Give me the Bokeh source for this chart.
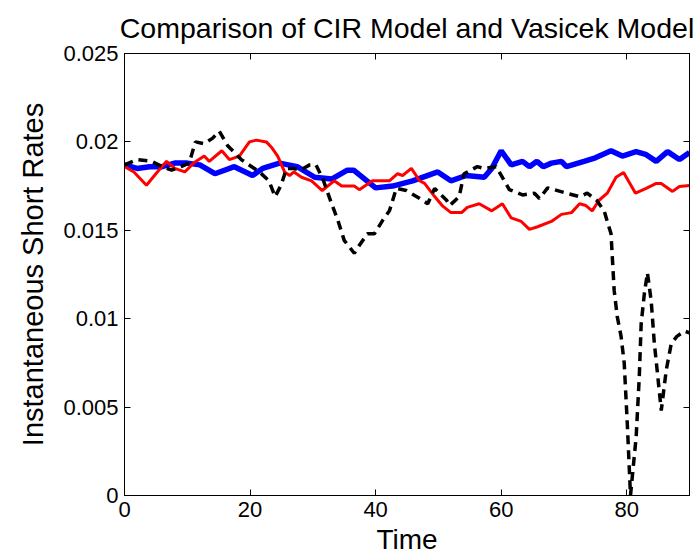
from bokeh.plotting import figure
from bokeh.models import Range1d, FixedTicker, LinearAxis, CustomJSTickFormatter
from bokeh.embed import file_html
from bokeh.resources import INLINE

# CIR model (blue)
cir_t = [0, 2, 4, 6, 8, 10, 12, 14.4, 17.5, 20.4, 22, 24.7, 27.5, 30.3, 33, 35.5, 36.5,
         40, 42.7, 45.9, 49.9, 52, 54.4, 57.3, 58.5, 60, 61.6, 63.4, 64.5, 65.7, 66.7, 68,
         69.6, 70.4, 73.2, 75, 77.5, 79.3, 81.5, 83, 84.7, 86.5, 88.4, 90]
cir_v = [0.0187, 0.0185, 0.0186, 0.0186, 0.0188, 0.0188, 0.0187, 0.0182, 0.0186, 0.0181,
         0.0185, 0.0188, 0.0186, 0.0180, 0.0179, 0.0184, 0.0184, 0.0174, 0.0175, 0.0178,
         0.0183, 0.0178, 0.0181, 0.0180, 0.0185, 0.0195, 0.0187, 0.0189, 0.0186, 0.0189,
         0.0186, 0.0188, 0.0189, 0.0186, 0.0189, 0.0191, 0.0195, 0.0192, 0.01945, 0.0193,
         0.0189, 0.01945, 0.0190, 0.0194]

# Vasicek model (red)
vas_t = [0, 1.5, 3.5, 5, 6.7, 8, 9.6, 11, 12.7, 13.5, 15.5, 16.7, 18.3, 18.8, 19.9, 21,
         22.6, 23.4, 24.4, 25.5, 26.3, 27, 28.2, 29.8, 31.5, 33.4, 34.6, 36.6, 37.4, 39.5,
         42.2, 43.5, 44.3, 45.7, 47, 47.8, 49.2, 50.6, 52, 53.7, 54.6, 56.5, 58.5, 60.2,
         61.6, 63.2, 64.5, 65.8, 68, 69.6, 71.2, 72.5, 73.5, 74.5, 75.6, 76.9, 78.3, 79.5,
         81.4, 83.1, 84.7, 85.5, 87.3, 88.4, 90]
vas_v = [0.0186, 0.0183, 0.01755, 0.0182, 0.0189, 0.0185, 0.0183, 0.0188, 0.0192, 0.0189,
         0.0195, 0.0190, 0.0192, 0.01945, 0.0200, 0.0201, 0.0200, 0.0197, 0.0192, 0.0183,
         0.0181, 0.0183, 0.0180, 0.0178, 0.01725, 0.0178, 0.0175, 0.0175, 0.0173, 0.0178,
         0.0178, 0.0182, 0.0181, 0.0185, 0.0178, 0.01765, 0.0170, 0.0164, 0.0160, 0.0160,
         0.0163, 0.0165, 0.0161, 0.0165, 0.0157, 0.0155, 0.01505, 0.0152, 0.0155, 0.0159,
         0.0160, 0.0165, 0.0164, 0.0161, 0.0167, 0.0171, 0.0180, 0.01827, 0.0171, 0.01737,
         0.01765, 0.01765, 0.0172, 0.01748, 0.01753]

# Third path (black dashed)
alt_t = [0, 2, 4.3, 6, 7.5, 9, 10.3, 11.3, 12.7, 14, 15.1, 16.4, 18.6, 21.5, 23, 24, 25,
         25.8, 26.8, 28, 29.5, 30.5, 31.6, 33, 34, 35, 36.6, 37.5, 38.7, 39.8, 41.1, 42.2,
         43.3, 44.9, 47.5, 48.3, 49.4, 51.3, 51.8, 53.3, 54.1, 56.2, 57.3, 59.2, 60.5, 61.3,
         63.4, 65.3, 66.1, 67.4, 70.4, 72.5, 73.7, 75.2, 76.4, 77.5, 78, 78.5, 79.1, 79.6,
         80.1, 80.6, 81.5, 82, 82.3, 82.8, 83.3, 83.9, 84.4, 84.9, 85.5, 86.3, 87.1, 88,
         89.2, 90]
alt_v = [0.0187, 0.0190, 0.0189, 0.0186, 0.0184, 0.0186, 0.0188, 0.0200, 0.0199, 0.0202,
         0.0206, 0.0198, 0.0190, 0.0183, 0.0178, 0.0169, 0.0176, 0.0185, 0.0185, 0.0184,
         0.0187, 0.0187, 0.0179, 0.0165, 0.01555, 0.01443, 0.0137, 0.0142, 0.0148, 0.0148,
         0.01555, 0.0161, 0.01737, 0.01725, 0.0167, 0.0165, 0.01737, 0.0167, 0.0164, 0.0169,
         0.0182, 0.0186, 0.0185, 0.0186, 0.0178, 0.0173, 0.0170, 0.0171, 0.0168, 0.0174,
         0.0171, 0.0169, 0.0171, 0.0167, 0.0161, 0.0148, 0.0116, 0.0101, 0.0090, 0.0075,
         0.0040, 0.0, 0.0033, 0.0067, 0.0097, 0.0114, 0.0126, 0.0110, 0.0086, 0.0069,
         0.0048, 0.0071, 0.0086, 0.0090, 0.0093, 0.0092]

x_ticks = [0, 20, 40, 60, 80]
y_ticks = [0, 0.005, 0.01, 0.015, 0.02, 0.025]

FONT = "Liberation Sans"

p = figure(output_backend="svg", toolbar_location=None,
           frame_width=565, frame_height=442,
           min_border_left=124, min_border_top=52, min_border_bottom=55, min_border_right=4,
           x_range=Range1d(0, 90), y_range=Range1d(0, 0.025),
           title="Comparison of CIR Model and Vasicek Model")

p.background_fill_color = "white"
p.border_fill_color = "white"
p.outline_line_color = "black"
p.outline_line_width = 1
p.xgrid.visible = False
p.ygrid.visible = False

p.title.text_font = FONT
p.title.text_font_size = "28.5px"
p.title.text_font_style = "normal"
p.title.text_color = "black"
p.title.align = "center"
p.title.standoff = 19
p.title.offset = 0

fmt = CustomJSTickFormatter(code="return tick.toFixed(3).replace(/\\.?0+$/, '');")
blank = CustomJSTickFormatter(code="return '';")

for ax in p.xaxis:
    ax.ticker = FixedTicker(ticks=x_ticks)
    ax.axis_label = "Time"
for ax in p.yaxis:
    ax.ticker = FixedTicker(ticks=y_ticks)
    ax.formatter = fmt
    ax.axis_label = "Instantaneous Short Rates"

for ax in p.xaxis + p.yaxis:
    ax.major_tick_in = 6
    ax.major_tick_out = 0
    ax.minor_tick_in = 0
    ax.minor_tick_out = 0
    ax.axis_line_color = "black"
    ax.major_tick_line_color = "black"
    ax.major_label_text_font = FONT
    ax.major_label_text_font_size = "22px"
    ax.major_label_text_color = "black"
    ax.axis_label_text_font = FONT
    ax.axis_label_text_font_style = "normal"
    ax.axis_label_text_color = "black"
    ax.major_label_standoff = 6

p.xaxis.axis_label_text_font_size = "28px"
p.yaxis.axis_label_text_font_size = "29px"
p.xaxis.axis_label_standoff = 4
p.yaxis.axis_label_standoff = 11

top = LinearAxis(ticker=FixedTicker(ticks=x_ticks), formatter=blank,
                 major_tick_in=6, major_tick_out=0, minor_tick_in=0, minor_tick_out=0,
                 major_label_standoff=0, major_label_text_font_size="10px")
right = LinearAxis(ticker=FixedTicker(ticks=y_ticks), formatter=blank,
                   major_tick_in=6, major_tick_out=0, minor_tick_in=0, minor_tick_out=0,
                   major_label_standoff=0, major_label_text_font_size="10px")
p.add_layout(top, "above")
p.add_layout(right, "right")

p.line(cir_t, cir_v, line_color="#0000ff", line_width=5.5)
p.line(vas_t, vas_v, line_color="#ff0000", line_width=3)
p.line(alt_t, alt_v, line_color="black", line_width=3.5, line_dash="9 6")

open("out.html", "w").write(file_html(p, INLINE))
